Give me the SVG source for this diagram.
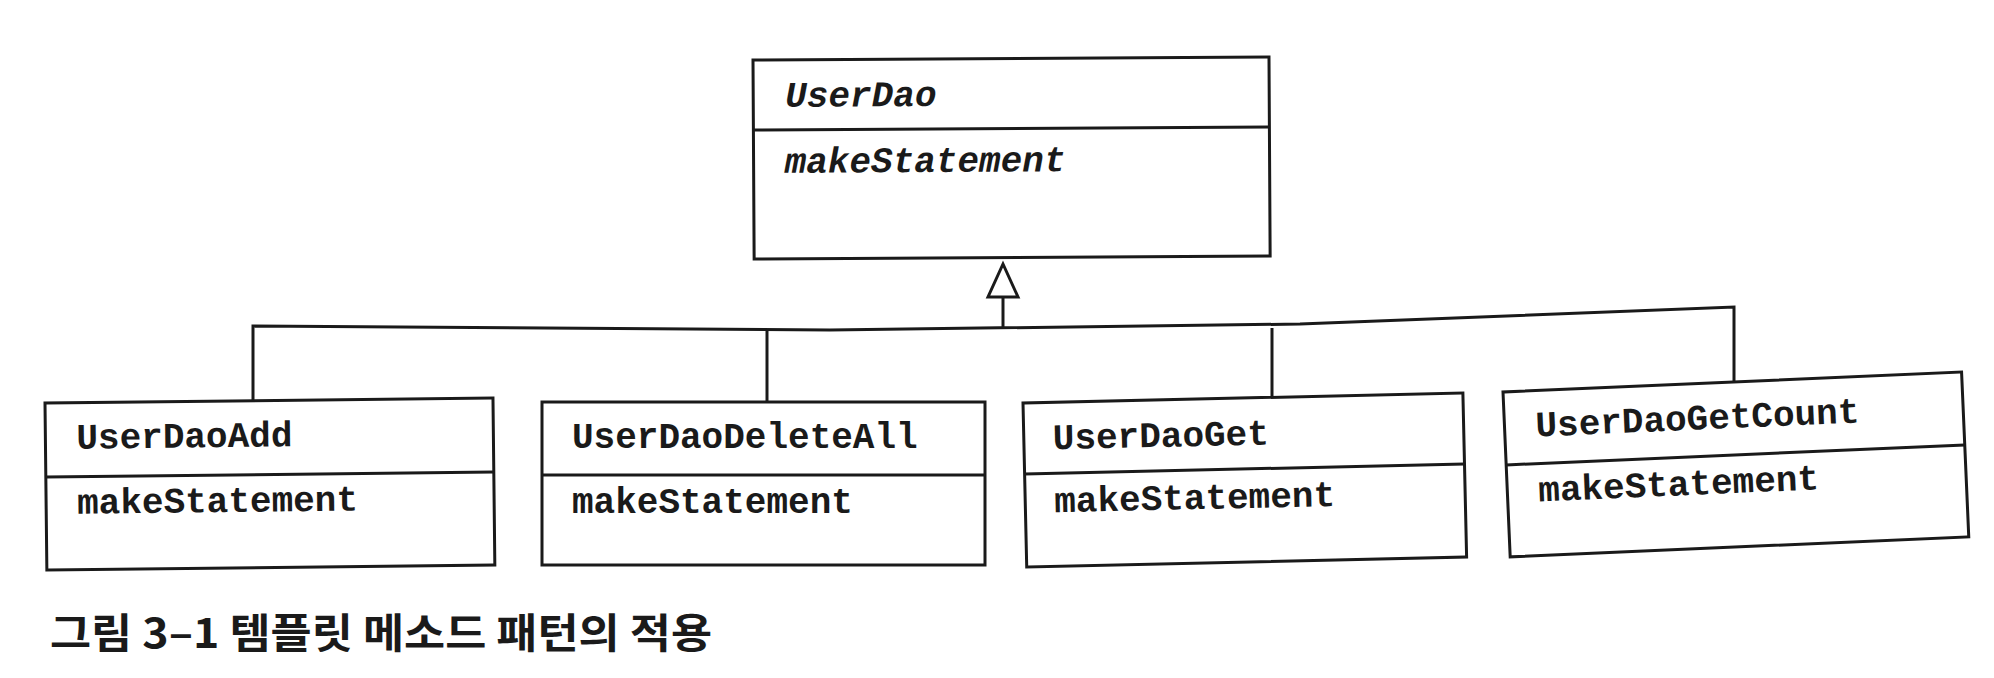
<svg xmlns="http://www.w3.org/2000/svg" width="1994" height="678" viewBox="0 0 1994 678">
<style>
.box{fill:#fff;stroke:#1a1a1a;stroke-width:3}
.div{stroke:#1a1a1a;stroke-width:3}
.t{font-family:"Liberation Mono","Courier New",monospace;font-weight:bold;font-size:36px;fill:#1a1a1a}
.it{font-style:italic}
.conn{fill:none;stroke:#1a1a1a;stroke-width:3}
.cap{font-family:"Noto Sans CJK KR","Noto Sans",sans-serif;font-weight:bold;font-size:41px;fill:#1a1a1a}
</style>
<rect width="1994" height="678" fill="#fff"/>
<g id="connectors">
<path class="conn" d="M253,401 L253,326 L830,330 L1300,324 L1734,307 L1734,382"/>
<path class="conn" d="M767,402 L767,330"/>
<path class="conn" d="M1272,397 L1272,328"/>
<path class="conn" d="M1003,329 L1003,297"/>
<polygon class="conn" points="1003,264 988,297 1018,297" fill="#fff" stroke-linejoin="miter"/>
</g>
<g id="UserDao" transform="translate(753,60) rotate(-0.33)">
<rect class="box" x="0" y="0" width="516" height="199"/>
<line class="div" x1="0" y1="70" x2="516" y2="70"/>
<text class="t it" x="32" y="47">UserDao</text>
<text class="t it" x="31" y="113">makeStatement</text>
</g>
<g id="UserDaoAdd" transform="translate(45,403) rotate(-0.64)">
<rect class="box" x="0" y="0" width="448" height="167"/>
<line class="div" x1="0" y1="74" x2="448" y2="74"/>
<text class="t" x="31" y="46">UserDaoAdd</text>
<text class="t" x="31" y="111">makeStatement</text>
</g>
<g id="UserDaoDeleteAll" transform="translate(542,402)">
<rect class="box" x="0" y="0" width="443" height="163"/>
<line class="div" x1="0" y1="73" x2="443" y2="73"/>
<text class="t" x="30" y="46">UserDaoDeleteAll</text>
<text class="t" x="30" y="111">makeStatement</text>
</g>
<g id="UserDaoGet" transform="translate(1023,403) rotate(-1.3)">
<rect class="box" x="0" y="0" width="440" height="164"/>
<line class="div" x1="0" y1="71" x2="440" y2="71"/>
<text class="t" x="29" y="47">UserDaoGet</text>
<text class="t" x="29" y="110">makeStatement</text>
</g>
<g id="UserDaoGetCount" transform="translate(1503,392) rotate(-2.5)">
<rect class="box" x="0" y="0" width="459" height="165"/>
<line class="div" x1="0" y1="73" x2="459" y2="73"/>
<text class="t" x="31" y="46">UserDaoGetCount</text>
<text class="t" x="31" y="111">makeStatement</text>
</g>
<text class="cap" x="50" y="648" textLength="662" lengthAdjust="spacingAndGlyphs">그림 3–1 템플릿 메소드 패턴의 적용</text>
</svg>
